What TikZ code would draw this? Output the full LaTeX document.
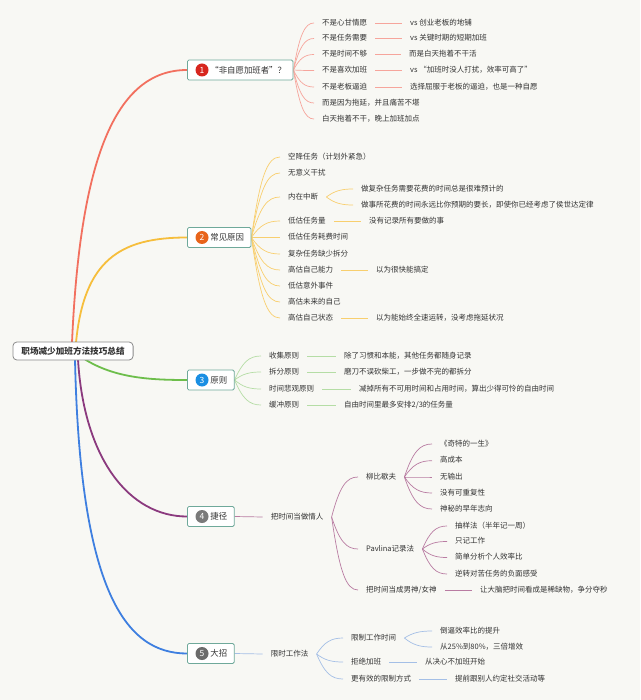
\documentclass[tikz,border=0pt]{standalone}
\usepackage{fontspec}
\setmainfont{Noto Sans CJK SC}
\usetikzlibrary{calc,backgrounds}
\definecolor{bg}{HTML}{F8F8F4}
\definecolor{txt}{HTML}{333333}
\definecolor{boxc}{HTML}{6FA99A}
\definecolor{rootc}{HTML}{8A8A8A}
\definecolor{m1}{HTML}{F2705F}
\definecolor{m2}{HTML}{F6BE3C}
\definecolor{m3}{HTML}{6DBE4B}
\definecolor{m4}{HTML}{8B3A7E}
\definecolor{m5}{HTML}{3E7FE0}
\definecolor{s1}{HTML}{F6A59C}
\definecolor{s2}{HTML}{F8CF6E}
\definecolor{s3}{HTML}{B5DDA5}
\definecolor{s4}{HTML}{B97CA2}
\definecolor{s5}{HTML}{A4BFE6}
\definecolor{c1}{HTML}{D7261E}
\definecolor{c2}{HTML}{E8641B}
\definecolor{c3}{HTML}{1A8FE3}
\definecolor{c4}{HTML}{7A7A7A}
\definecolor{c5}{HTML}{6B6B6B}
\newcommand\fan[3]{\draw[#1] let \p1=(#2), \p2=(#3) in (\p1) .. controls ({\x1+0.3*(\x2-\x1)},{\y1+0.75*(\y2-\y1)}) and ({\x1+0.55*(\x2-\x1)},\y2) .. (\p2);}
\tikzset{
  t/.style={anchor=west, inner xsep=8pt, inner ysep=1pt, text height=6pt, text depth=1.5pt, font=\fontsize{7.5}{9}\selectfont, text=txt},
  bbox/.style={draw=boxc, fill=white, rounded corners=1.5pt, line width=0.8pt, minimum height=20pt, inner xsep=7pt, anchor=west, font=\fontsize{8.4}{10}\selectfont, text=txt},
  numc/.style={circle, inner sep=0pt, minimum size=13pt, text=white, font=\fontsize{8.5}{9}\selectfont},
  rootbox/.style={draw=rootc, fill=white, rounded corners=4pt, line width=0.8pt, minimum height=18pt, inner xsep=8.5pt, font=\fontsize{8.6}{10}\selectfont\bfseries, text=txt},
  mainline/.style={line width=1.8pt},
  l1/.style={draw=s1, line width=0.7pt},
  l2/.style={draw=s2, line width=0.7pt},
  l3/.style={draw=s3, line width=0.7pt},
  l4/.style={draw=s4, line width=0.7pt},
  l5/.style={draw=s5, line width=0.7pt}
}
\begin{document}
\begin{tikzpicture}[x=1pt,y=-1pt]
\useasboundingbox (0,0) rectangle (640,700);
% root
\node[rootbox] (root) at (73,351) {职场减少加班方法技巧总结};
% branch boxes
\node[bbox] (b1) at (187,70) {\hspace*{16pt}“非自愿加班者”？};
\node[numc, fill=c1] (n1) at ($(b1.west)+(15,0)$) {1};
\node[bbox] (b2) at (187,237.5) {\hspace*{16pt}常见原因};
\node[numc, fill=c2] (n2) at ($(b2.west)+(15,0)$) {2};
\node[bbox] (b3) at (187,380) {\hspace*{16pt}原则};
\node[numc, fill=c3] (n3) at ($(b3.west)+(15,0)$) {3};
\node[bbox] (b4) at (187,516.5) {\hspace*{16pt}捷径};
\node[numc, fill=c4] (n4) at ($(b4.west)+(15,0)$) {4};
\node[bbox] (b5) at (187,653.5) {\hspace*{16pt}大招};
\node[numc, fill=c5] (n5) at ($(b5.west)+(15,0)$) {5};
% branch 1
\node[t] (c11) at (314,23) {不是心甘情愿};
\node[t] (g11) at (402,23) {vs 创业老板的地铺};
\node[t] (c12) at (314,38.5) {不是任务需要};
\node[t] (g12) at (402,38.5) {vs 关键时期的短期加班};
\node[t] (c13) at (314,54.5) {不是时间不够};
\node[t] (g13) at (401,54.5) {而是白天拖着不干活};
\node[t] (c14) at (314,70.5) {不是喜欢加班};
\node[t] (g14) at (402,70.5) {vs “加班时没人打扰，效率可高了”};
\node[t] (c15) at (314,87) {不是老板逼迫};
\node[t] (g15) at (402,87) {选择屈服于老板的逼迫，也是一种自愿};
\node[t] (c16) at (314,103) {而是因为拖延，并且痛苦不堪};
\node[t] (c17) at (314,119) {白天拖着不干，晚上加班加点};
% branch 2
\node[t] (c21) at (280,157) {空降任务（计划外紧急）};
\node[t] (c22) at (280,173) {无意义干扰};
\node[t] (c23) at (280,197) {内在中断};
\node[t] (g231) at (353,189) {做复杂任务需要花费的时间总是很难预计的};
\node[t] (g232) at (353,205) {做事所花费的时间永远比你预期的要长，即使你已经考虑了侯世达定律};
\node[t] (c24) at (280,221) {低估任务量};
\node[t] (g24) at (361,221) {没有记录所有要做的事};
\node[t] (c25) at (280,237.5) {低估任务耗费时间};
\node[t] (c26) at (280,254) {复杂任务缺少拆分};
\node[t] (c27) at (280,270) {高估自己能力};
\node[t] (g27) at (368,270) {以为很快能搞定};
\node[t] (c28) at (280,286) {低估意外事件};
\node[t] (c29) at (280,302) {高估未来的自己};
\node[t] (c2a) at (280,318) {高估自己状态};
\node[t] (g2a) at (368,318) {以为能始终全速运转，没考虑拖延状况};
% branch 3
\node[t] (c31) at (261,356) {收集原则};
\node[t] (g31) at (336,356) {除了习惯和本能，其他任务都随身记录};
\node[t] (c32) at (261,372) {拆分原则};
\node[t] (g32) at (336,372) {磨刀不误砍柴工，一步做不完的都拆分};
\node[t] (c33) at (261,389) {时间悲观原则};
\node[t] (g33) at (351,389) {减掉所有不可用时间和占用时间，算出少得可怜的自由时间};
\node[t] (c34) at (261,405) {缓冲原则};
\node[t] (g34) at (336,405) {自由时间里最多安排2/3的任务量};
% branch 4
\node[t] (c4) at (262.7,517) {把时间当做情人};
\node[t] (c41) at (358,477) {柳比歇夫};
\node[t] (g411) at (432,444) {《奇特的一生》};
\node[t] (g412) at (432,460.7) {高成本};
\node[t] (g413) at (432,477) {无输出};
\node[t] (g414) at (432,493) {没有可重复性};
\node[t] (g415) at (432,509) {神秘的早年志向};
\node[t] (c42) at (358,549) {Pavlina记录法};
\node[t] (g421) at (447,526) {抽样法（半年记一周）};
\node[t] (g422) at (447,541.5) {只记工作};
\node[t] (g423) at (447,557.5) {简单分析个人效率比};
\node[t] (g424) at (447,574) {逆转对苦任务的负面感受};
\node[t] (c43) at (358,590) {把时间当成男神/女神};
\node[t] (g43) at (472,590) {让大脑把时间看成是稀缺物，争分夺秒};
% branch 5
\node[t] (c5) at (262.7,654) {限时工作法};
\node[t] (c51) at (343,638) {限制工作时间};
\node[t] (g511) at (432,631) {倒逼效率比的提升};
\node[t] (g512) at (432,647) {从25\%到80\%，三倍增效};
\node[t] (c52) at (343,662) {拒绝加班};
\node[t] (g52) at (417,662) {从决心不加班开始};
\node[t] (c53) at (343,679) {更有效的限制方式};
\node[t] (g53) at (447,679) {提前跟别人约定社交活动等};

\begin{scope}[on background layer]
\fill[bg] (0,0) rectangle (640,700);
% main connectors
\draw[mainline, m1] ($(root.north)+(-1,1)$) .. controls (80,160) and (115,70) .. (b1.west);
\draw[mainline, m2] ($(root.north)+(3,1)$) .. controls (84,260) and (120,237.5) .. (b2.west);
\draw[mainline, m3] ($(root.south)+(12,-1)$) .. controls (115,378) and (150,380) .. (b3.west);
\draw[mainline, m4] ($(root.south)+(5,-1)$) .. controls (84,460) and (130,516.5) .. (b4.west);
\draw[mainline, m5] ($(root.south)+(2,-1)$) .. controls (80,590) and (125,653.5) .. (b5.west);
% branch 1
\foreach \c in {c11,c12,c13,c14,c15,c16,c17} {\fan{l1}{b1.east}{\c.west}}
\draw[l1] (c11.east) -- (g11.west);
\draw[l1] (c12.east) -- (g12.west);
\draw[l1] (c13.east) -- (g13.west);
\draw[l1] (c14.east) -- (g14.west);
\draw[l1] (c15.east) -- (g15.west);
% branch 2
\foreach \c in {c21,c22,c23,c24,c25,c26,c27,c28,c29,c2a} {\fan{l2}{b2.east}{\c.west}}
\fan{l2}{c23.east}{g231.west}
\fan{l2}{c23.east}{g232.west}
\draw[l2] (c24.east) -- (g24.west);
\draw[l2] (c27.east) -- (g27.west);
\draw[l2] (c2a.east) -- (g2a.west);
% branch 3
\foreach \c in {c31,c32,c33,c34} {\fan{l3}{b3.east}{\c.west}}
\draw[l3] (c31.east) -- (g31.west);
\draw[l3] (c32.east) -- (g32.west);
\draw[l3] (c33.east) -- (g33.west);
\draw[l3] (c34.east) -- (g34.west);
% branch 4
\draw[l4] (b4.east) -- (c4.west);
\foreach \c in {c41,c42,c43} {\fan{l4}{c4.east}{\c.west}}
\foreach \c in {g411,g412,g413,g414,g415} {\fan{l4}{c41.east}{\c.west}}
\foreach \c in {g421,g422,g423,g424} {\fan{l4}{c42.east}{\c.west}}
\draw[l4] (c43.east) -- (g43.west);
% branch 5
\draw[l5] (b5.east) -- (c5.west);
\foreach \c in {c51,c52,c53} {\fan{l5}{c5.east}{\c.west}}
\fan{l5}{c51.east}{g511.west}
\fan{l5}{c51.east}{g512.west}
\draw[l5] (c52.east) -- (g52.west);
\draw[l5] (c53.east) -- (g53.west);
\end{scope}
\end{tikzpicture}
\end{document}
